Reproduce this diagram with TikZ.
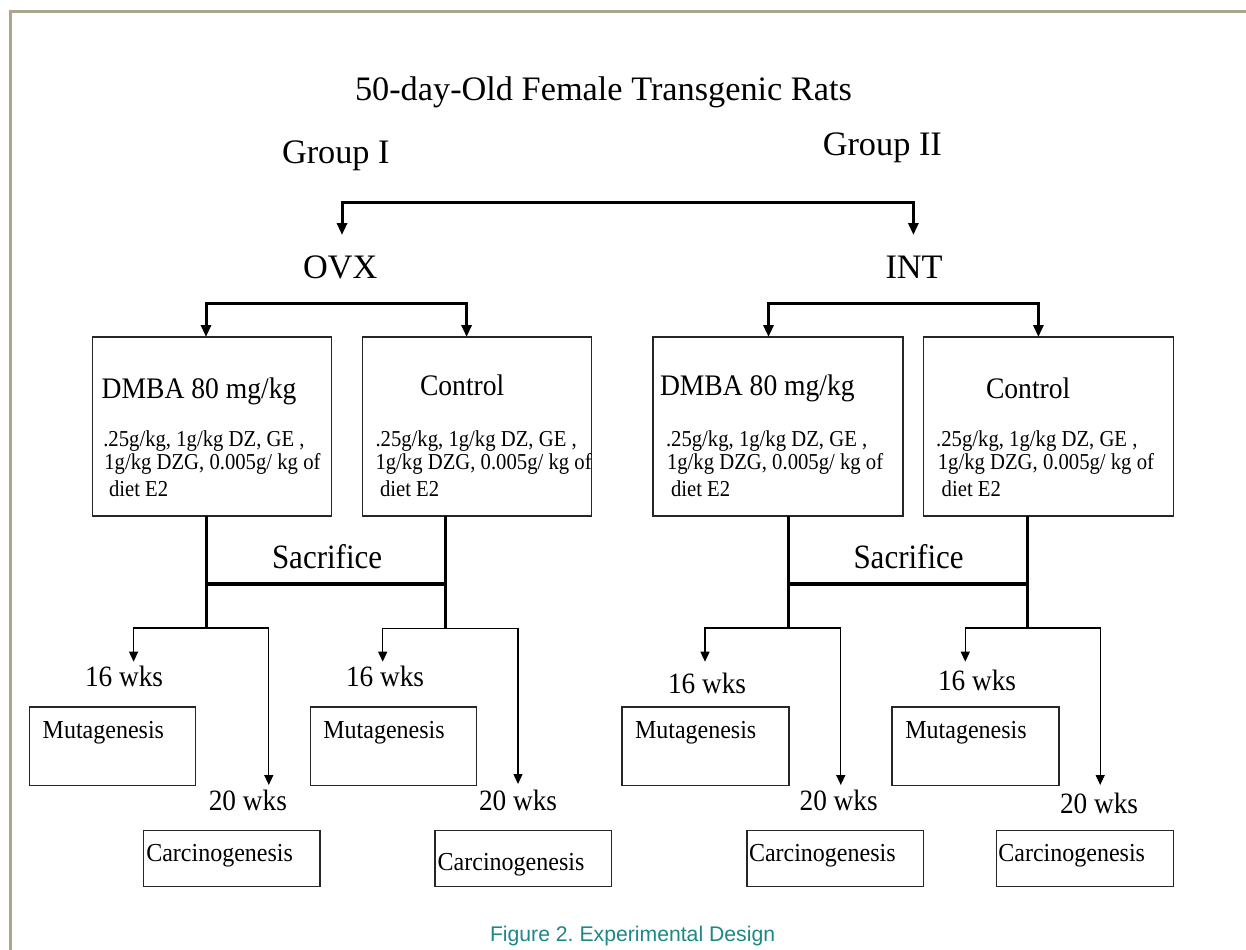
\documentclass[tikz,border=0pt]{standalone}
\usepackage{fontspec}
\setmainfont{Liberation Serif}
\newfontfamily\capfont{Liberation Sans}
\usetikzlibrary{arrows.meta}
\definecolor{bordercol}{RGB}{172,166,142}
\definecolor{capcol}{RGB}{30,135,135}
\newcommand\boxat[5]{\node[boxstyle,anchor=north west,minimum width={(#4-#2)*1bp},minimum height={(#5-#3)*1bp}] (#1) at (#2,#3) {};}
\newcommand\vsa[1]{\scalebox{1}[1.08]{#1}}
\newcommand\vsb[1]{\scalebox{1}[1.1]{#1}}
\frenchspacing
\begin{document}
\begin{tikzpicture}[x=1bp,y=-1bp,
  txt/.style={anchor=base west,inner sep=0pt,outer sep=0pt},
  ftitle/.style={font=\fontsize{34.3bp}{40bp}\selectfont},
  fmid/.style={font=\fontsize{27.6bp}{32bp}\selectfont},
  fsac/.style={font=\fontsize{31bp}{36bp}\selectfont},
  fwk/.style={font=\fontsize{27.3bp}{32bp}\selectfont},
  fout/.style={font=\fontsize{24bp}{28bp}\selectfont},
  fsmall/.style={font=\fontsize{20.7bp}{24bp}\selectfont},
  boxstyle/.style={draw=black!85,line width=1.3bp,inner sep=0pt,outer sep=0pt},
  thkarr/.style={line width=3bp,line join=miter,arrows={Triangle[width=10bp,length=12bp]-Triangle[width=10bp,length=12bp]}},
  sacv/.style={line width=3bp},
  sach/.style={line width=3.6bp},
  thinarr/.style={line width=1.3bp,arrows={Triangle[width=9bp,length=10bp]-Triangle[width=9bp,length=10bp]}}
]
\useasboundingbox (0,0) rectangle (1246,950);
\fill[white] (0,0) rectangle (1246,950);
% frame
\coordinate (fr1) at (10,950);
\coordinate (fr2) at (10,11);
\coordinate (fr3) at (1246,11);
\draw[bordercol,line width=3bp] (fr1) -- (fr2) -- (fr3);

% titles
\node[txt,ftitle] (title) at (355,100) {50-day-Old Female Transgenic Rats};
\node[txt,ftitle] (g1) at (282,163) {Group I};
\node[txt,ftitle] (g2) at (822.8,155) {Group II};
\node[txt,ftitle] (ovx) at (303,278.5) {OVX};
\node[txt,ftitle] (int) at (885.5,278) {INT};

% top bracket
\coordinate (tl) at (342,202);
\coordinate (tr) at (913.4,202);
\coordinate (ovxin) at (342,235);
\coordinate (intin) at (913.4,235);
\draw[thkarr] (ovxin) -- (tl) -- (tr) -- (intin);

% boxes
\boxat{b1}{92.3}{337}{331.7}{516}
\boxat{b2}{362.5}{337}{591.5}{516}
\boxat{b3}{653}{337}{903}{516}
\boxat{b4}{923.4}{337}{1173.3}{516}

% OVX / INT brackets
\coordinate (o1) at (206,303.3);
\coordinate (o2) at (466.6,303.3);
\draw[thkarr] (b1.north -| o1) -- (o1) -- (o2) -- (b2.north -| o2);
\coordinate (i1) at (768.5,303);
\coordinate (i2) at (1038.4,303);
\draw[thkarr] (b3.north -| i1) -- (i1) -- (i2) -- (b4.north -| i2);

% box texts
\node[txt,fmid] (d1) at (101.7,398.3) {\vsa{DMBA 80 mg/kg}};
\node[txt,fmid] (c1t) at (420,395) {\vsa{Control}};
\node[txt,fmid] (d2) at (660,395) {\vsa{DMBA 80 mg/kg}};
\node[txt,fmid] (c2t) at (986,398) {\vsa{Control}};

\node[txt,fsmall] (s1a) at (103.3,446) {\vsb{.25g/kg, 1g/kg DZ, GE ,}};
\node[txt,fsmall] (s1b) at (104.3,469) {\vsb{1g/kg DZG, 0.005g/ kg of}};
\node[txt,fsmall] (s1c) at (109,496) {\vsb{diet E2}};
\node[txt,fsmall] (s2a) at (375.5,446) {\vsb{.25g/kg, 1g/kg DZ, GE ,}};
\node[txt,fsmall] (s2b) at (375.5,469) {\vsb{1g/kg DZG, 0.005g/ kg of}};
\node[txt,fsmall] (s2c) at (380,496) {\vsb{diet E2}};
\node[txt,fsmall] (s3a) at (666,446) {\vsb{.25g/kg, 1g/kg DZ, GE ,}};
\node[txt,fsmall] (s3b) at (667,469) {\vsb{1g/kg DZG, 0.005g/ kg of}};
\node[txt,fsmall] (s3c) at (671,496) {\vsb{diet E2}};
\node[txt,fsmall] (s4a) at (936.2,446) {\vsb{.25g/kg, 1g/kg DZ, GE ,}};
\node[txt,fsmall] (s4b) at (937.8,469) {\vsb{1g/kg DZG, 0.005g/ kg of}};
\node[txt,fsmall] (s4c) at (941.7,496) {\vsb{diet E2}};

% sacrifice left
\coordinate (sl1) at (206.4,628);
\coordinate (sl2) at (445.6,628);
\coordinate (hl1) at (206.4,584);
\coordinate (hl2) at (445.6,584);
\draw[sacv] (b1.south -| sl1) -- (sl1);
\draw[sacv] (b2.south -| sl2) -- (sl2);
\draw[sach] (hl1) -- (hl2);
\node[txt,fsac] (sac1) at (272,568) {\vsb{Sacrifice}};
% sacrifice right
\coordinate (sr1) at (788.9,628);
\coordinate (sr2) at (1027.6,628);
\coordinate (hr1) at (788.9,584);
\coordinate (hr2) at (1027.6,584);
\draw[sacv] (b3.south -| sr1) -- (sr1);
\draw[sacv] (b4.south -| sr2) -- (sr2);
\draw[sach] (hr1) -- (hr2);
\node[txt,fsac] (sac2) at (853.5,568) {\vsb{Sacrifice}};

% lower boxes
\boxat{m1}{29.7}{707}{195.7}{785.3}
\boxat{m2}{310.4}{707}{476.5}{785.3}
\boxat{m3}{622}{707}{788.9}{785.3}
\boxat{m4}{892}{707}{1059}{785.3}
\boxat{k1}{143.5}{830.7}{320}{886.7}
\boxat{k2}{435}{830.7}{611.7}{886.7}
\boxat{k3}{747}{830.7}{923.4}{886.7}
\boxat{k4}{996.4}{830.7}{1173.3}{886.7}

% thin branches
\coordinate (ta1) at (133.6,661.7); \coordinate (tb1) at (133.6,628);
\coordinate (tc1) at (268.8,628);   \coordinate (td1) at (268.8,785);
\draw[thinarr] (ta1) -- (tb1) -- (tc1) -- (td1);
\coordinate (ta2) at (382.7,661.7); \coordinate (tb2) at (382.7,628.5);
\coordinate (tc2) at (518,628.5);   \coordinate (td2) at (518,784);
\draw[thinarr] (ta2) -- (tb2) -- (tc2) -- (td2);
\coordinate (ta3) at (705,661.7); \coordinate (tb3) at (705,628);
\coordinate (tc3) at (840.8,628); \coordinate (td3) at (840.8,785);
\draw[thinarr] (ta3) -- (tb3) -- (tc3) -- (td3);
\coordinate (ta4) at (965.3,661.7); \coordinate (tb4) at (965.3,628);
\coordinate (tc4) at (1100.2,628);  \coordinate (td4) at (1100.2,785);
\draw[thinarr] (ta4) -- (tb4) -- (tc4) -- (td4);

% labels
\node[txt,fwk] (w16a) at (85,686.7) {\vsa{16 wks}};
\node[txt,fwk] (w16b) at (346,686.7) {\vsa{16 wks}};
\node[txt,fwk] (w16c) at (668,693) {\vsa{16 wks}};
\node[txt,fwk] (w16d) at (938,690.7) {\vsa{16 wks}};
\node[txt,fwk] (w20a) at (208.8,810) {\vsa{20 wks}};
\node[txt,fwk] (w20b) at (479,810) {\vsa{20 wks}};
\node[txt,fwk] (w20c) at (799.6,810) {\vsa{20 wks}};
\node[txt,fwk] (w20d) at (1060,813) {\vsa{20 wks}};

\node[txt,fout] (mt1) at (42.7,738.3) {\vsa{Mutagenesis}};
\node[txt,fout] (mt2) at (323.4,738.3) {\vsa{Mutagenesis}};
\node[txt,fout] (mt3) at (635,738.3) {\vsa{Mutagenesis}};
\node[txt,fout] (mt4) at (905.4,738.3) {\vsa{Mutagenesis}};
\node[txt,fout] (ct1) at (146.3,861.7) {\vsa{Carcinogenesis}};
\node[txt,fout] (ct2) at (437.7,870) {\vsa{Carcinogenesis}};
\node[txt,fout] (ct3) at (749,861.7) {\vsa{Carcinogenesis}};
\node[txt,fout] (ct4) at (998.4,861.7) {\vsa{Carcinogenesis}};

% caption
\node[txt,font=\capfont\fontsize{21.2bp}{25bp}\selectfont,text=capcol] (cap) at (490,941.7) {Figure 2. Experimental Design};
\end{tikzpicture}
\end{document}
